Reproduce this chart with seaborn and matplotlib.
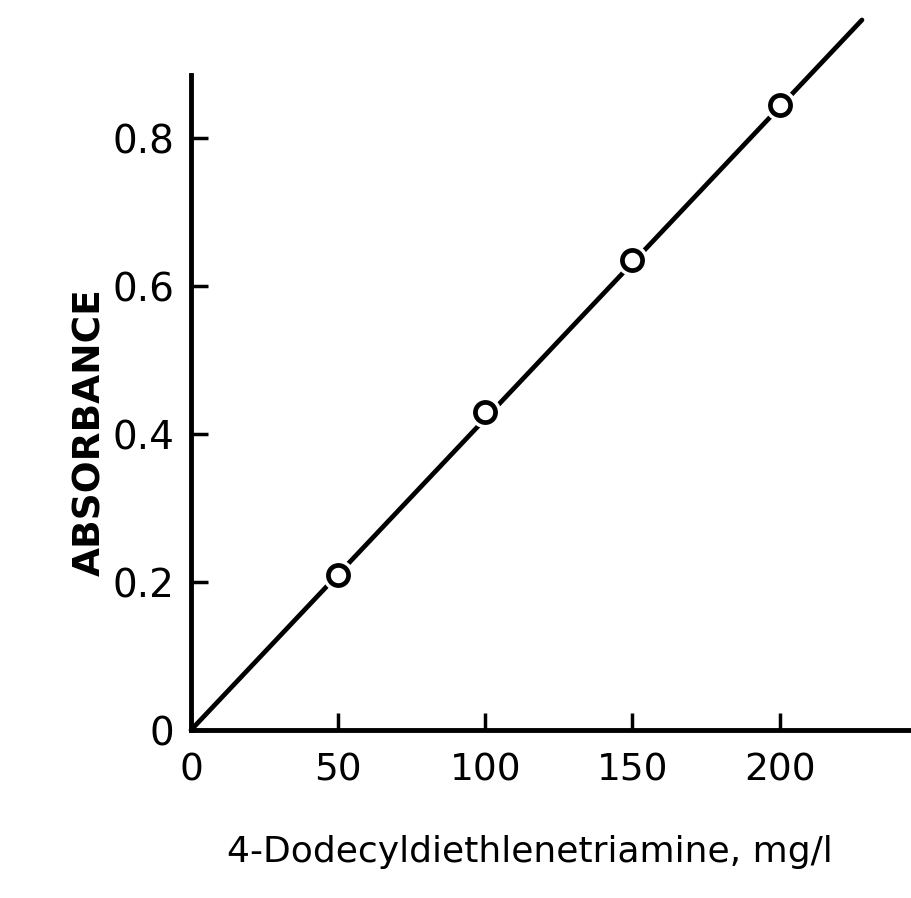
import matplotlib
matplotlib.use("Agg")
import matplotlib.pyplot as plt
import seaborn as sns
import pandas as pd

# data
conc = [50, 100, 150, 200]
absorbance = [0.21, 0.43, 0.635, 0.845]
fit_x = [0, 228]
fit_y = [0, 0.96]
xticks = [0, 50, 100, 150, 200]
xtick_labels = ["0", "50", "100", "150", "200"]
yticks = [0, 0.2, 0.4, 0.6, 0.8]
ytick_labels = ["0", "0.2", "0.4", "0.6", "0.8"]

sns.set_theme(style="white")
plt.rcParams['font.family'] = ['DejaVu Sans']

fig = plt.figure(figsize=(9.12, 8.98), dpi=100)
ax = fig.add_axes([0.2094, 0.187, 0.7906, 0.729])

pts = pd.DataFrame({"x": conc, "y": absorbance})
fit = pd.DataFrame({"x": fit_x, "y": fit_y})

sns.lineplot(data=fit, x="x", y="y", ax=ax, color="black", lw=3.4, zorder=2)
for l in ax.lines:
    l.set_clip_on(False)
# white halo creating gaps around markers
sns.scatterplot(data=pts, x="x", y="y", ax=ax, s=520, color="white",
                edgecolor="white", linewidth=0, zorder=3, clip_on=False)
sns.scatterplot(data=pts, x="x", y="y", ax=ax, s=210, color="white",
                edgecolor="black", linewidth=3.4, zorder=4, clip_on=False)

ax.set_xlim(0, 245)
ax.set_ylim(0, 0.885)
ax.set_xticks(xticks)
ax.set_xticklabels(xtick_labels)
ax.set_yticks(yticks)
ax.set_yticklabels(ytick_labels)

for s in ["top", "right"]:
    ax.spines[s].set_visible(False)
for s in ["left", "bottom"]:
    ax.spines[s].set_linewidth(3.5)
    ax.spines[s].set_color("black")

ax.tick_params(axis="both", direction="in", length=12, width=2.5, color="black",
               labelcolor="black", bottom=True, left=True)
ax.tick_params(axis="x", labelsize=27, pad=16)
ax.tick_params(axis="y", labelsize=28, pad=12)

ax.set_xlabel("4-Dodecyldiethlenetriamine, mg/l", fontsize=26, color="black")
ax.set_ylabel("ABSORBANCE", fontsize=27, fontweight="bold", color="black")
ax.xaxis.set_label_coords(0.47, -0.16)
ax.yaxis.set_label_coords(-0.115, 0.455)
ax.set_facecolor("white")
fig.patch.set_facecolor("white")

fig.savefig("out.png", dpi=100)
